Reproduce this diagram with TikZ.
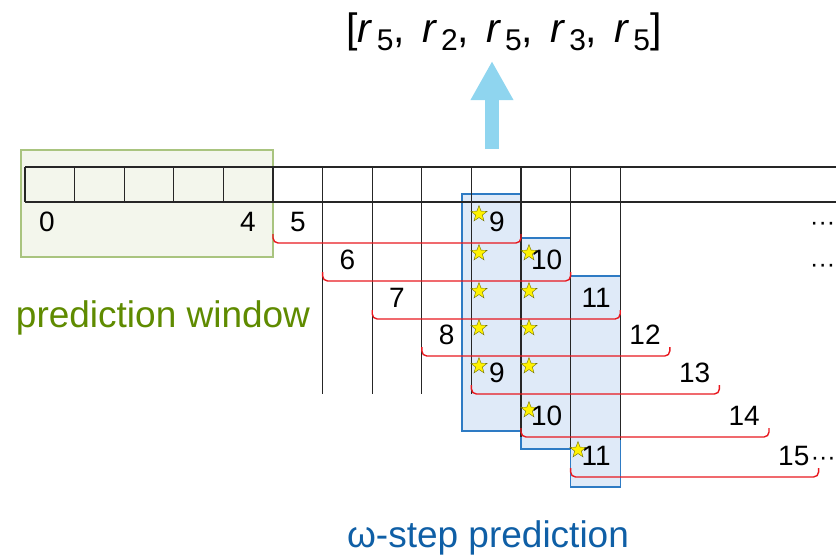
\documentclass[tikz,border=0pt]{standalone}
\usepackage{fontspec}
\setmainfont{Liberation Sans}
\usetikzlibrary{shapes.geometric, arrows.meta, positioning, calc}

\definecolor{winfill}{HTML}{F3F6EC}
\definecolor{windraw}{HTML}{A9C47F}
\definecolor{wintext}{HTML}{5F8B00}
\definecolor{stepfill}{HTML}{DFEAF8}
\definecolor{stepdraw}{HTML}{2E7BC4}
\definecolor{steptext}{HTML}{0F5FA6}
\definecolor{spanred}{HTML}{E8181E}
\definecolor{upblue}{HTML}{8FD5EF}
\definecolor{starline}{HTML}{707000}

\newcommand{\rsub}[1]{\textit{r}\kern4pt\raisebox{-8pt}{\fontsize{30}{30}\selectfont #1}}

\begin{document}
\begin{tikzpicture}[
  x=1pt, y=-1pt,
  num/.style={font=\fontsize{28}{28}\selectfont, inner sep=0pt},
  dots/.style={font=\fontsize{25}{25}\selectfont, inner sep=0pt},
  caption/.style={font=\fontsize{37}{37}\selectfont, inner sep=0pt, anchor=base},
  grid/.style={line width=1.3pt, black!85},
  window/.style={draw=windraw, fill=winfill, line width=1.2pt},
  stepbox/.style={draw=stepdraw, fill=stepfill, line width=1.2pt},
  span/.style={draw=spanred, line width=1.4pt, rounded corners=5pt},
  hit/.style={star, star points=5, star point ratio=2.4, minimum size=17pt,
    inner sep=0pt, fill=yellow, draw=starline, line width=0.4pt},
  bigarrow/.style={draw=upblue, line width=14pt, -{Triangle[length=39pt, width=40pt]}}
]
\useasboundingbox (0,0) rectangle (836,555);

% window and step columns
\draw [window] (21,150) rectangle (273,257);
\draw [stepbox] (462,194) rectangle (521,431);
\draw [stepbox] (521,238) rectangle (570.6,449);
\draw [stepbox] (570.6,276) rectangle (620.2,487);

% time axis
\draw [grid] (25,167) -- (836,167);
\draw [grid] (25,202) -- (836,202);
\draw [grid] (25,167) -- (25,202);
\draw [grid] (74.6,167) -- (74.6,202);
\draw [grid] (124.2,167) -- (124.2,202);
\draw [grid] (173.8,167) -- (173.8,202);
\draw [grid] (223.4,167) -- (223.4,202);
\draw [grid] (273,167) -- (273,202);
\draw [grid] (322.6,167) -- (322.6,394);
\draw [grid] (372.2,167) -- (372.2,394);
\draw [grid] (421.8,167) -- (421.8,394);
\draw [grid] (471.4,167) -- (471.4,394);
\draw [grid] (521,167) -- (521,437);
\draw [grid] (570.6,167) -- (570.6,449);
\draw [grid] (620.2,167) -- (620.2,440);

% spans
\draw [span] (273,234) |- (521,243) -- (521,234);
\draw [span] (322.6,272) |- (570.6,281) -- (570.6,272);
\draw [span] (372.2,310) |- (620.2,319) -- (620.2,310);
\draw [span] (421.8,347) |- (669.8,356) -- (669.8,347);
\draw [span] (471.4,385) |- (719.4,394) -- (719.4,385);
\draw [span] (521,428) |- (769,437) -- (769,428);
\draw [span] (570.6,468) |- (818.6,477) -- (818.6,468);

% stars
\node (hit1) [hit] at (479,214) {};
\node (hit2) [hit] at (479,253) {};
\node (hit3) [hit] at (479,291) {};
\node (hit4) [hit] at (479,328) {};
\node (hit5) [hit] at (479,366) {};
\node (hit6) [hit] at (529,253) {};
\node (hit7) [hit] at (529,291) {};
\node (hit8) [hit] at (529,328) {};
\node (hit9) [hit] at (529,366) {};
\node (hit10) [hit] at (529,410) {};
\node (hit11) [hit] at (578,450) {};

% labels
\node (first) [num] at (47,222) {0};
\node (last) [num] at (248,222) {4};
\node (start5) [num] at (297.8,222) {5};
\node (end5) [num] at (497,222) {9};
\node (start6) [num] at (347.4,260) {6};
\node (end6) [num] at (546.6,260) {10};
\node (start7) [num] at (397,298) {7};
\node (end7) [num] at (596.2,298) {11};
\node (start8) [num] at (446.6,335) {8};
\node (end8) [num] at (645,335) {12};
\node (start9) [num] at (497,373) {9};
\node (end9) [num] at (694.6,373) {13};
\node (start10) [num] at (546.6,416) {10};
\node (end10) [num] at (744.2,416) {14};
\node (start11) [num] at (596.2,456) {11};
\node (end11) [num] at (793.8,456) {15};
\node (more5) [dots, anchor=base west] at (810,230) {···};
\node (more6) [dots, anchor=base west] at (810,272) {···};
\node (more11) [dots, right=1pt of end11.base east, anchor=base west] {···};

\node (windowlabel) [caption, text=wintext] at (163,327) {prediction window};
\node (steplabel) [caption, text=steptext] at (488,547) {ω-step prediction};

% output sequence
\node (output) [inner sep=0pt, anchor=base, font=\fontsize{41}{41}\selectfont] at (504,42)
  {[\rsub{5},\hspace{17pt}\rsub{2},\hspace{17pt}\rsub{5},\hspace{17pt}\rsub{3},\hspace{17pt}\rsub{5}]};
\coordinate (lift) at (492,149);
\coordinate (tip) at (492,61);
\draw [bigarrow] (lift) -- (tip);

\end{tikzpicture}
\end{document}
